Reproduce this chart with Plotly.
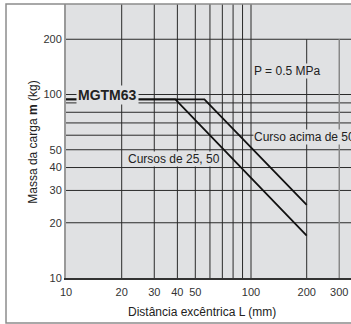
import plotly.graph_objects as go

# ---- data ----
L_short = [10, 39, 200]          # Cursos de 25, 50
m_short = [94, 94, 17]
L_long = [10, 56, 200]           # Curso acima de 50
m_long = [94, 94, 25]

x_ticks = [10, 20, 30, 40, 50, 100, 200, 300]
y_ticks = [10, 20, 30, 40, 50, 100, 200]
x_grid_full = [20, 30, 40, 50, 60, 70, 80, 90, 100]
x_grid_part = [200, 300]
y_grid = [20, 30, 40, 50, 60, 70, 80, 90, 100, 200]

BG = "#e0e1e3"
GRID = "#2a2a2a"
FONT = "Liberation Sans, Arial, sans-serif"

fig = go.Figure()
fig.add_trace(go.Scatter(x=L_short, y=m_short, mode="lines",
                         line=dict(color="#111", width=1.8), showlegend=False))
fig.add_trace(go.Scatter(x=L_long, y=m_long, mode="lines",
                         line=dict(color="#111", width=1.8), showlegend=False))

shapes = []
for v in x_grid_full:
    shapes.append(dict(type="line", xref="x", yref="paper", x0=v, x1=v,
                       y0=0, y1=1, line=dict(color=GRID, width=1), layer="below"))
for v in x_grid_part:
    shapes.append(dict(type="line", xref="x", yref="y", x0=v, x1=v,
                       y0=10, y1=200,
                       line=dict(color="#888" if v == 300 else GRID, width=1.5 if v == 300 else 1),
                       layer="below"))
for v in y_grid:
    shapes.append(dict(type="line", xref="paper", yref="y", x0=0, x1=1,
                       y0=v, y1=v, line=dict(color=GRID, width=1), layer="below"))
# outer frame
shapes.append(dict(type="rect", xref="paper", yref="paper", x0=-0.2105, x1=1.2, y0=-0.1642, y1=1.0,
                   line=dict(color="#8c8c8c", width=1.5)))

ann_font = dict(family=FONT, size=12, color="#222")
annotations = [
    dict(text="<b>MGTM63</b>", x=1.2227, y=2.0, xref="x", yref="y",
         showarrow=False, font=dict(family=FONT, size=14, color="#222"), bgcolor=BG, borderpad=1),
    dict(text="P = 0.5 MPa", x=2.0086, y=2.127, xref="x", yref="y",
         xanchor="left", showarrow=False, font=ann_font, bgcolor=BG, borderpad=0),
    dict(text="Curso acima de 50", x=2.0086, y=1.767, xref="x", yref="y",
         xanchor="left", showarrow=False, font=ann_font, bgcolor=BG, borderpad=0),
    dict(text="Cursos de 25, 50", x=1.328, y=1.647, xref="x", yref="y",
         xanchor="left", showarrow=False, font=ann_font, bgcolor=BG, borderpad=0),
    dict(text="Massa da carga <b>m</b> (kg)", x=-0.116, y=0.497, xref="paper", yref="paper",
         xanchor="center", yanchor="middle",
         textangle=-90, showarrow=False, font=dict(family=FONT, size=12, color="#222")),
    dict(text="Distância excêntrica L (mm)", x=0.478, y=-0.124, xref="paper", yref="paper",
         xanchor="center", yanchor="middle",
         showarrow=False, font=dict(family=FONT, size=12, color="#222")),
]

fig.update_layout(
    width=351, height=324,
    margin=dict(l=66, r=0, t=4, b=46),
    paper_bgcolor="white", plot_bgcolor=BG,
    shapes=shapes, annotations=annotations,
    font=dict(family=FONT, size=11, color="#333"),
    xaxis=dict(type="log", range=[1, 2.5405], tickvals=x_ticks, ticktext=[str(v) for v in x_ticks],
               showgrid=False, zeroline=False, showline=True, linecolor="#333", linewidth=1.5,
               ticks="", ticklabelstandoff=3, tickfont=dict(size=11, color="#333")),
    yaxis=dict(type="log", range=[1, 2.4932], tickvals=y_ticks, ticktext=[str(v) for v in y_ticks],
               showgrid=False, zeroline=False, showline=True, linecolor="#999", linewidth=2,
               ticks="", tickfont=dict(size=11, color="#333")),
)

fig.write_html("out.html")
